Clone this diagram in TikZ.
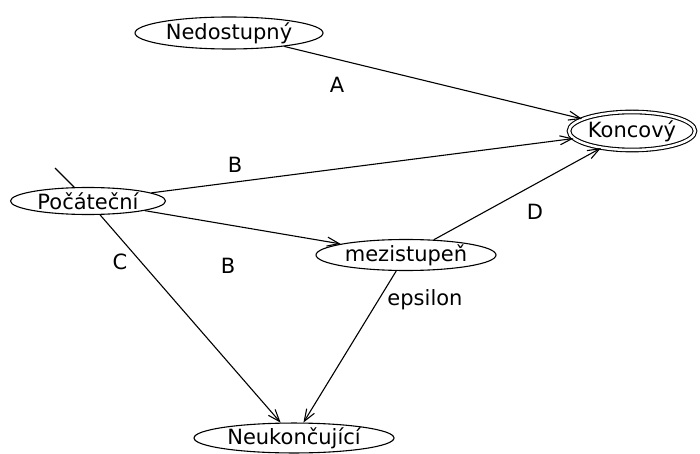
\documentclass[tikz,border=0pt]{standalone}
\usepackage{fontspec}
\setmainfont{DejaVu Sans}
\usepackage{tikz}
\usetikzlibrary{arrows.meta,shapes.geometric}

\tikzset{
  state/.style={draw,ellipse,inner sep=0pt,line width=1.1pt},
  final/.style={state,double,double distance=2.5pt},
  lbl/.style={inner sep=0pt}
}

\begin{document}
\begin{tikzpicture}[x=1pt,y=-1pt,>={Straight Barb[length=12pt,width=9pt]},
  line width=1.1pt,font=\fontsize{21}{23}\selectfont]
\useasboundingbox (0,0) rectangle (700,454);
% states
\node[state,minimum width=188pt,minimum height=32pt] (ned) at (229,33) {Nedostupný};
\node[final,minimum width=126pt,minimum height=38pt] (kon) at (632,131) {Koncový};
\node[state,minimum width=155pt,minimum height=27pt] (poc) at (88,201) {Počáteční};
\node[state,minimum width=180pt,minimum height=31pt] (mez) at (406,255) {mezistupeň};
\node[state,minimum width=200pt,minimum height=29pt] (neu) at (294,438) {Neukončující};
% start
\coordinate (init) at (55,168);
\draw (init) -- (poc);
% transitions
\draw[->] (ned) -- (kon);
\draw[->] (poc) -- (kon);
\draw[->] (poc) -- (mez);
\draw[->] (poc) -- (neu);
\draw[->] (mez) -- (kon);
\draw[->] (mez) -- (neu);
% labels
\node[lbl] (la) at (337,85) {A};
\node[lbl] (lb1) at (235,165) {B};
\node[lbl] (lb2) at (228,266) {B};
\node[lbl] (lc) at (120,262) {C};
\node[lbl] (ld) at (535,212) {D};
\node[lbl] (le) at (425,300) {epsilon};
\end{tikzpicture}
\end{document}
